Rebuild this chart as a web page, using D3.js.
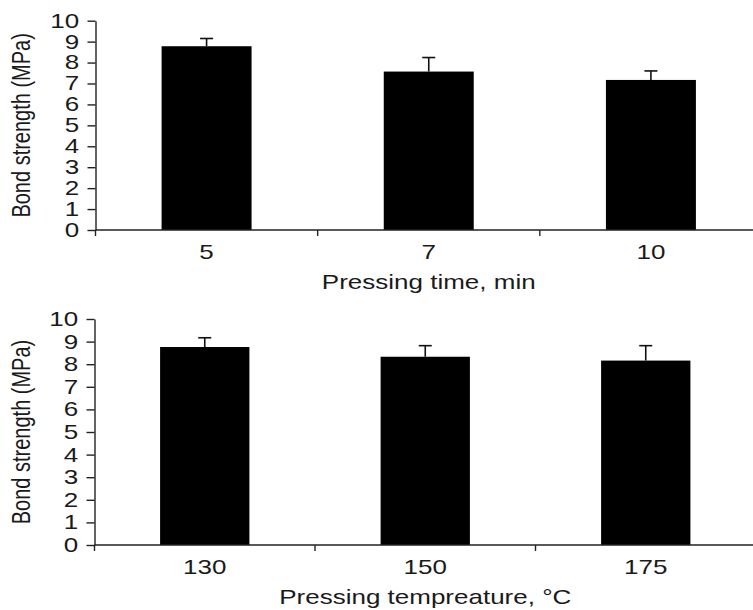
<!DOCTYPE html>
<meta charset="utf-8">
<style>
body { margin: 0; background: #fff; }
text { font-family: "Liberation Sans", Arial, sans-serif; fill: #1a1a1a; }
.axis path, .axis line, .xline, .xtick { stroke: #222; stroke-width: 1.4px; fill: none; }
.bar { fill: #000; }
.err { stroke: #111; stroke-width: 1.6px; fill: none; }
</style>
<svg width="753" height="610"></svg>
<script src="https://d3js.org/d3.v7.min.js"></script>
<script>

// pressing time panel
var timeCats = ["5", "7", "10"];
var timeVals = [8.78, 7.57, 7.17];
var timeErr = [0.37, 0.67, 0.43];

// pressing temperature panel
var tempCats = ["130", "150", "175"];
var tempVals = [8.76, 8.33, 8.16];
var tempErr = [0.41, 0.49, 0.66];

var yTicks = [0, 1, 2, 3, 4, 5, 6, 7, 8, 9, 10];
var stretch = 1.3;  // text in the source is wider than tall

var svg = d3.select("svg");

function panel(cats, vals, errs, xTitle, left, right, top, bottom) {
  var g = svg.append("g");

  var x = d3.scaleBand()
      .domain(cats)
      .range([left, right])
      .paddingInner(0.595)
      .paddingOuter(0.2975);

  var y = d3.scaleLinear().domain([0, 10]).range([bottom, top]);

  var data = cats.map(function(c, i) { return {cat: c, value: vals[i], err: errs[i]}; });

  // bars
  g.selectAll(".bar")
    .data(data)
    .enter().append("rect")
      .attr("class", "bar")
      .attr("x", function(d) { return x(d.cat); })
      .attr("y", function(d) { return y(d.value); })
      .attr("width", x.bandwidth())
      .attr("height", function(d) { return y(0) - y(d.value); });

  // error bars (upper only)
  var eb = g.selectAll(".errg")
    .data(data)
    .enter().append("g")
      .attr("class", "errg");
  eb.append("line")
      .attr("class", "err")
      .attr("x1", function(d) { return x(d.cat) + x.bandwidth() / 2; })
      .attr("x2", function(d) { return x(d.cat) + x.bandwidth() / 2; })
      .attr("y1", function(d) { return y(d.value); })
      .attr("y2", function(d) { return y(d.value + d.err); });
  eb.append("line")
      .attr("class", "err")
      .attr("x1", function(d) { return x(d.cat) + x.bandwidth() / 2 - 6.5; })
      .attr("x2", function(d) { return x(d.cat) + x.bandwidth() / 2 + 6.5; })
      .attr("y1", function(d) { return y(d.value + d.err); })
      .attr("y2", function(d) { return y(d.value + d.err); });

  // y axis
  var yAxis = g.append("g")
      .attr("class", "axis")
      .attr("transform", "translate(" + left + ",0)")
      .call(d3.axisLeft(y).tickValues(yTicks).tickSize(8).tickSizeOuter(0));
  yAxis.selectAll("text")
      .style("font-size", "20px")
      .attr("x", -12.5)
      .attr("transform", "scale(" + stretch + ",1)");

  // x axis: baseline plus ticks between the groups
  g.append("line")
      .attr("class", "xline")
      .attr("x1", left).attr("x2", 753)
      .attr("y1", y(0)).attr("y2", y(0));
  var gap = (x.step() - x.bandwidth()) / 2;
  g.selectAll(".xtick")
    .data(cats)
    .enter().append("line")
      .attr("class", "xtick")
      .attr("x1", function(d) { return x(d) - gap; })
      .attr("x2", function(d) { return x(d) - gap; })
      .attr("y1", y(0)).attr("y2", y(0) + 6);

  g.selectAll(".xlab")
    .data(cats)
    .enter().append("text")
      .attr("class", "xlab")
      .attr("transform", function(d) {
        return "translate(" + (x(d) + x.bandwidth() / 2) + "," + (y(0) + 29) + ") scale(" + stretch + ",1)";
      })
      .attr("text-anchor", "middle")
      .style("font-size", "20px")
      .text(function(d) { return d; });

  g.append("text")
      .attr("transform", "translate(" + ((left + right) / 2) + "," + (y(0) + 59) + ") scale(" + stretch + ",1)")
      .attr("text-anchor", "middle")
      .style("font-size", "20px")
      .text(xTitle);

  g.append("text")
      .attr("transform", "translate(30," + ((top + bottom) / 2) + ") scale(" + stretch + ",1) rotate(-90)")
      .attr("text-anchor", "middle")
      .style("font-size", "20px")
      .text("Bond strength (MPa)");
}

panel(timeCats, timeVals, timeErr, "Pressing time, min", 95.5, 762, 20.7, 230);
panel(tempCats, tempVals, tempErr, "Pressing tempreature, \u00B0C", 94.5, 756, 319, 545);

</script>
